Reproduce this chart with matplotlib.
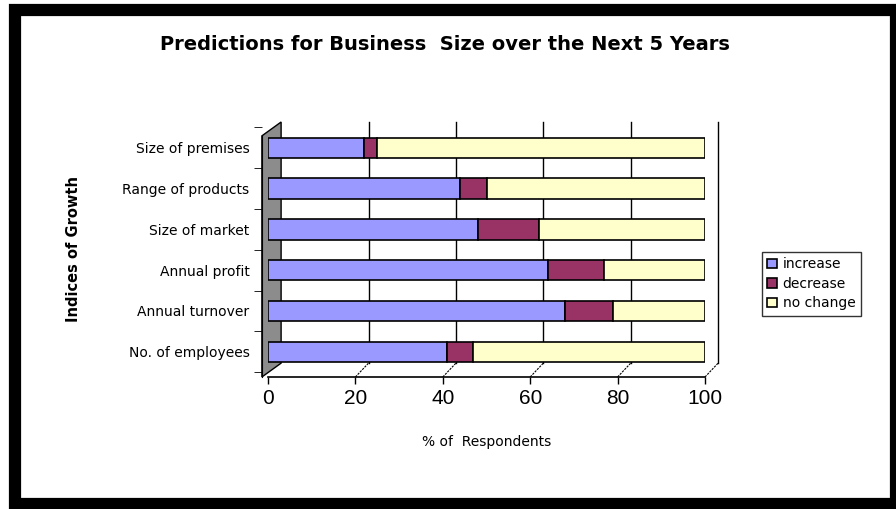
import numpy as np
import matplotlib
matplotlib.use("Agg")
import matplotlib.pyplot as plt
from matplotlib.patches import Rectangle, Polygon

plt.rcParams["font.family"] = ["DejaVu Sans"]

categories = ["No. of employees", "Annual turnover", "Annual profit",
              "Size of market", "Range of products", "Size of premises"]
increase = [41, 68, 64, 48, 44, 22]
decrease = [6, 11, 13, 14, 6, 3]
no_change = [53, 21, 23, 38, 50, 75]
series = ["increase", "decrease", "no change"]
colors = ["#9999FF", "#993366", "#FFFFCC"]
xticks = [0, 20, 40, 60, 80, 100]

fig = plt.figure(figsize=(8.96, 5.09), dpi=100)

# black frame around the chart area (pixel centres of the thick border)
fig.patches.append(Rectangle((14.5 / 896, 1 - 503.5 / 509), 881 / 896, 493.5 / 509,
                             transform=fig.transFigure, fill=False,
                             edgecolor="black", linewidth=8.8))

ax = fig.add_axes([268 / 896, 1 - 377 / 509, 437 / 896, 255 / 509])
ylo, yhi = -0.62, 5.63
dx, dy = 3.0, 0.34

# side wall and back wall grid (fake 3d)
ax.add_patch(Polygon([(-1.4, ylo), (dx, ylo + dy), (dx, yhi), (-1.4, yhi - dy)],
                     closed=True, facecolor="#8c8c8c", edgecolor="black",
                     linewidth=1, clip_on=False, zorder=1))
for t in xticks[1:]:
    ax.plot([t + dx, t + dx], [ylo + dy, yhi], color="black", lw=1,
            clip_on=False, zorder=1)
    ax.plot([t, t + dx], [ylo, ylo + dy], color="black", lw=0.8,
            ls=(0, (2, 1)), clip_on=False, zorder=1)

y = np.arange(len(categories))
left = np.zeros(len(categories))
for name, c, vals in zip(series, colors, [increase, decrease, no_change]):
    ax.barh(y, vals, 0.5, left=left, color=c, edgecolor="black",
            linewidth=1.2, label=name, zorder=3)
    left += np.array(vals)

ax.set_xlim(0, 100)
ax.set_ylim(ylo, yhi)
ax.set_xticks(xticks)
ax.set_xticklabels([str(t) for t in xticks], fontsize=15,
                   family="Liberation Sans")
ax.set_yticks(y)
ax.set_yticklabels(categories, fontsize=9)
ax.tick_params(axis="y", length=0, pad=9)
ax.set_yticks(np.arange(-0.5, len(categories)), minor=True)
ax.tick_params(axis="y", which="minor", length=6, left=True)
ax.tick_params(axis="x", length=5, width=1, pad=4)
for s in ["top", "right"]:
    ax.spines[s].set_visible(False)
ax.spines["left"].set_position(("data", -1.4))
ax.spines["left"].set_bounds(ylo, yhi - dy)
ax.spines["bottom"].set_linewidth(1.2)

ax.set_xlabel("% of  Respondents", fontsize=10, labelpad=19)
ax.set_ylabel("Indices of Growth", fontsize=10.5, fontweight="bold", labelpad=30)
fig.text(0.497, 0.912, "Predictions for Business  Size over the Next 5 Years",
         ha="center", va="center", fontsize=14, fontweight="bold")

leg = ax.legend(loc="center left", bbox_to_anchor=(1.13, 0.365), frameon=True,
                fancybox=False, fontsize=10, handlelength=0.7,
                handleheight=0.7, handletextpad=0.4, labelspacing=0.4,
                borderpad=0.4, borderaxespad=0)
leg.get_frame().set_edgecolor("black")
leg.get_frame().set_linewidth(1)

fig.savefig("out.png", dpi=100)
